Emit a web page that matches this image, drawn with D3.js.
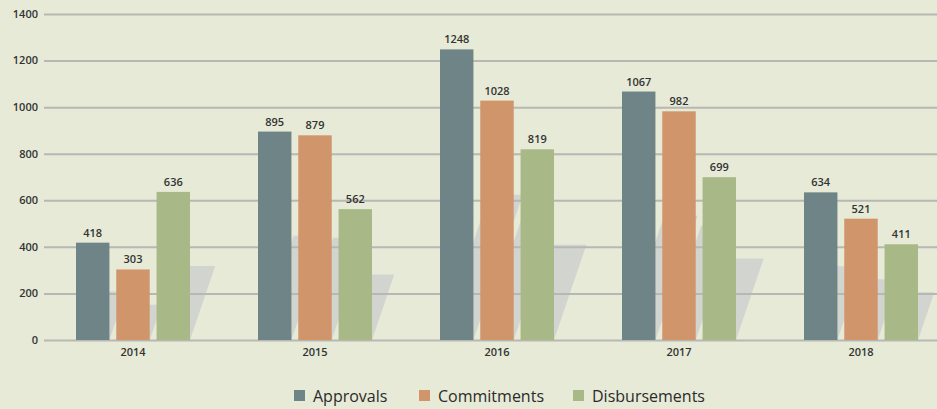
<!doctype html>
<html>
<head>
<meta charset="utf-8">
<style>
  body { margin: 0; background: #e6ead6; }
  svg { display: block; font-family: "Open Sans", "Noto Sans", sans-serif; }
  .grid line { stroke: #b7b8b3; stroke-width: 2; }
  .xaxis text { fill: #333; font-size: 11px; font-weight: 600; font-family: "Open Sans", sans-serif; }
  .ylab { fill: #333; font-size: 11px; font-weight: 600; }
  .val { fill: #333; font-size: 11px; font-weight: 600; text-anchor: middle; }
  .legend text { fill: #2b2b2b; font-size: 16px; font-weight: 500; }
</style>
<script src="https://d3js.org/d3.v7.min.js"></script>
</head>
<body>
<svg width="937" height="409"></svg>
<script>
// data
var years = ["2014", "2015", "2016", "2017", "2018"];
var series = ["Approvals", "Commitments", "Disbursements"];
var approvals = [418, 895, 1248, 1067, 634];
var commitments = [303, 879, 1028, 982, 521];
var disbursements = [636, 562, 819, 699, 411];
var yTicks = [0, 200, 400, 600, 800, 1000, 1200, 1400];
var colors = ["#6f8486", "#d0956a", "#a8b886"];

var values = [approvals, commitments, disbursements];

var svg = d3.select("svg");
svg.append("rect").attr("width", 937).attr("height", 409).attr("fill", "#e6ead6");

var x0 = d3.scaleBand().domain(years).range([42, 952]);
var x1 = d3.scaleBand().domain(series).range([-57, 57]).paddingInner(0.17);
var y = d3.scaleLinear().domain([0, 1400]).range([340, 14]);

// flatten for drawing
var data = [];
years.forEach(function(yr, i) {
    series.forEach(function(s, j) {
        data.push({ year: yr, series: s, value: values[j][i], color: colors[j] });
    });
});

var slant = 0.34;

// shadows
svg.append("g").selectAll("path")
   .data(data)
   .enter().append("path")
   .attr("fill", "#d2d4d0")
   .attr("d", function(d) {
       var xl = x0(d.year) + x0.bandwidth() / 2 + x1(d.series);
       var w = x1.bandwidth();
       var b = y(0), t = y(d.value / 2), h = b - t;
       return "M" + xl + "," + b + "L" + (xl + w) + "," + b +
              "L" + (xl + w + slant * h) + "," + t + "L" + (xl + slant * h) + "," + t + "Z";
   });

// grid
var grid = svg.append("g")
   .attr("class", "grid")
   .attr("transform", "translate(44,0)")
   .call(d3.axisRight(y).tickValues(yTicks).tickSize(937 - 44).tickFormat(""));
grid.select(".domain").remove();

// y labels
svg.append("g").selectAll("text")
   .data(yTicks)
   .enter().append("text")
   .attr("class", "ylab")
   .attr("x", 38)
   .attr("y", function(d) { return y(d); })
   .attr("dy", "0.35em")
   .attr("text-anchor", "end")
   .text(function(d) { return d; });

// bars
svg.append("g").selectAll("rect")
   .data(data)
   .enter().append("rect")
   .attr("x", function(d) { return x0(d.year) + x0.bandwidth() / 2 + x1(d.series); })
   .attr("y", function(d) { return y(d.value); })
   .attr("width", x1.bandwidth())
   .attr("height", function(d) { return y(0) - y(d.value); })
   .attr("fill", function(d) { return d.color; });

// value labels
svg.append("g").selectAll("text")
   .data(data)
   .enter().append("text")
   .attr("class", "val")
   .attr("x", function(d) { return x0(d.year) + x0.bandwidth() / 2 + x1(d.series) + x1.bandwidth() / 2; })
   .attr("y", function(d) { return y(d.value) - 6; })
   .text(function(d) { return d.value; });

// x labels
var xAxis = svg.append("g")
   .attr("class", "xaxis")
   .attr("transform", "translate(0," + y(0) + ")")
   .call(d3.axisBottom(x0).tickSize(0).tickPadding(8));
xAxis.select(".domain").remove();

// legend
var legendX = [294, 419, 573];
var legend = svg.append("g").attr("class", "legend")
   .selectAll("g")
   .data(series)
   .enter().append("g")
   .attr("transform", function(d, i) { return "translate(" + legendX[i] + ",390)"; });
legend.append("rect")
   .attr("width", 11).attr("height", 11)
   .attr("fill", function(d, i) { return colors[i]; });
legend.append("text")
   .attr("x", 19).attr("y", 11.5)
   .text(function(d) { return d; });
</script>
</body>
</html>
